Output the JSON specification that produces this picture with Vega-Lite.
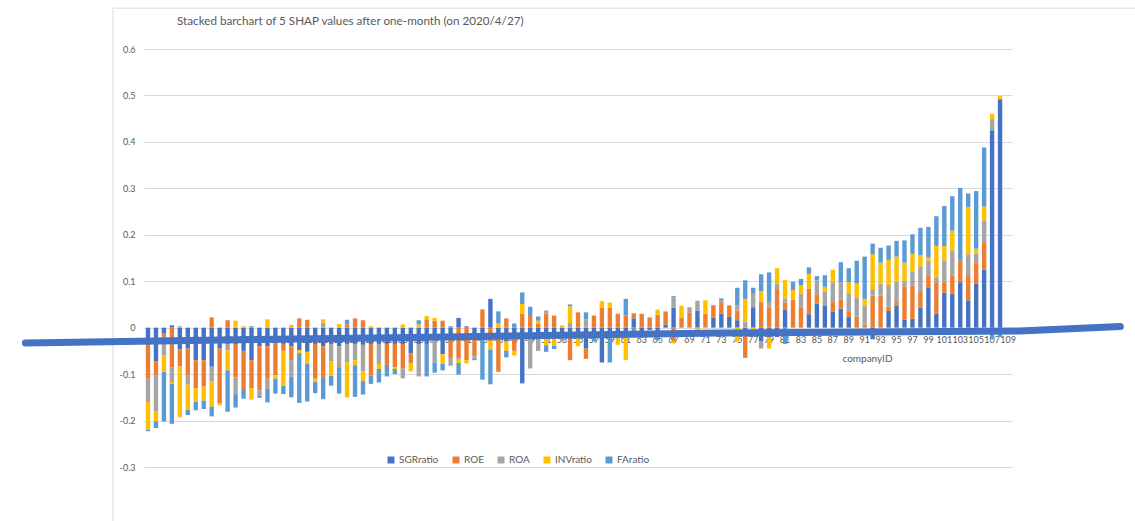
{
  "$schema": "https://vega.github.io/schema/vega-lite/v6.json",
  "width": 868,
  "height": 418,
  "autosize": "none",
  "padding": {"left": 144, "top": 49, "right": 123, "bottom": 54},
  "background": "white",
  "config": {
    "font": "Lato",
    "view": {"stroke": null},
    "axis": {"labelColor": "#595959", "labelFont": "Lato", "titleFont": "Lato"}
  },
  "title": {
    "text": "Stacked barchart of 5 SHAP values after one-month (on 2020/4/27)",
    "anchor": "start",
    "frame": "group",
    "dx": 33,
    "offset": -20,
    "fontSize": 11.7,
    "fontWeight": "normal",
    "color": "#595959",
    "font": "Lato"
  },
  "datasets": {
    "shap": [
      {"companyID": 1, "SGRratio": -0.035, "ROE": -0.075, "ROA": -0.05, "INVratio": -0.06, "FAratio": -0.003},
      {"companyID": 2, "SGRratio": -0.073, "ROE": -0.029, "ROA": -0.079, "INVratio": -0.021, "FAratio": -0.014},
      {"companyID": 3, "SGRratio": -0.013, "ROE": -0.006, "ROA": -0.04, "INVratio": -0.036, "FAratio": -0.107},
      {"companyID": 4, "SGRratio": 0.005, "ROE": -0.085, "ROA": -0.032, "INVratio": -0.004, "FAratio": -0.086},
      {"companyID": 5, "SGRratio": -0.047, "ROE": -0.036, "ROA": 0.003, "INVratio": -0.11, "FAratio": 0},
      {"companyID": 6, "SGRratio": -0.045, "ROE": -0.057, "ROA": -0.021, "INVratio": -0.054, "FAratio": -0.011},
      {"companyID": 7, "SGRratio": -0.07, "ROE": -0.06, "ROA": 0, "INVratio": -0.03, "FAratio": -0.018},
      {"companyID": 8, "SGRratio": -0.07, "ROE": -0.057, "ROA": 0, "INVratio": -0.03, "FAratio": -0.018},
      {"companyID": 9, "SGRratio": -0.084, "ROE": 0.022, "ROA": -0.032, "INVratio": -0.054, "FAratio": -0.021},
      {"companyID": 10, "SGRratio": -0.045, "ROE": -0.118, "ROA": 0, "INVratio": -0.004, "FAratio": 0},
      {"companyID": 11, "SGRratio": -0.035, "ROE": 0.016, "ROA": -0.014, "INVratio": -0.043, "FAratio": -0.089},
      {"companyID": 12, "SGRratio": -0.035, "ROE": -0.072, "ROA": -0.036, "INVratio": 0.015, "FAratio": -0.029},
      {"companyID": 13, "SGRratio": -0.05, "ROE": -0.082, "ROA": 0, "INVratio": 0.003, "FAratio": -0.021},
      {"companyID": 14, "SGRratio": -0.07, "ROE": -0.06, "ROA": 0, "INVratio": -0.025, "FAratio": 0.003},
      {"companyID": 15, "SGRratio": -0.04, "ROE": -0.095, "ROA": -0.012, "INVratio": 0, "FAratio": -0.004},
      {"companyID": 16, "SGRratio": -0.04, "ROE": -0.07, "ROA": -0.022, "INVratio": 0.018, "FAratio": -0.029},
      {"companyID": 17, "SGRratio": -0.033, "ROE": -0.07, "ROA": 0, "INVratio": -0.007, "FAratio": -0.032},
      {"companyID": 18, "SGRratio": -0.035, "ROE": -0.015, "ROA": 0, "INVratio": -0.075, "FAratio": -0.018},
      {"companyID": 19, "SGRratio": -0.04, "ROE": -0.03, "ROA": -0.035, "INVratio": 0.006, "FAratio": -0.045},
      {"companyID": 20, "SGRratio": -0.048, "ROE": 0.02, "ROA": 0, "INVratio": -0.007, "FAratio": -0.107},
      {"companyID": 21, "SGRratio": -0.052, "ROE": 0.017, "ROA": 0, "INVratio": -0.025, "FAratio": -0.082},
      {"companyID": 22, "SGRratio": -0.035, "ROE": -0.075, "ROA": 0, "INVratio": -0.007, "FAratio": -0.024},
      {"companyID": 23, "SGRratio": -0.04, "ROE": -0.068, "ROA": 0.011, "INVratio": 0.007, "FAratio": -0.046},
      {"companyID": 24, "SGRratio": -0.035, "ROE": 0, "ROA": -0.037, "INVratio": -0.032, "FAratio": -0.021},
      {"companyID": 25, "SGRratio": -0.04, "ROE": 0, "ROA": -0.045, "INVratio": 0.008, "FAratio": -0.057},
      {"companyID": 26, "SGRratio": -0.035, "ROE": 0.007, "ROA": -0.04, "INVratio": -0.075, "FAratio": 0.01},
      {"companyID": 27, "SGRratio": -0.035, "ROE": 0.02, "ROA": -0.035, "INVratio": -0.011, "FAratio": -0.068},
      {"companyID": 28, "SGRratio": -0.037, "ROE": 0.016, "ROA": -0.057, "INVratio": -0.021, "FAratio": -0.029},
      {"companyID": 29, "SGRratio": -0.035, "ROE": -0.068, "ROA": 0, "INVratio": 0.003, "FAratio": -0.018},
      {"companyID": 30, "SGRratio": -0.035, "ROE": 0, "ROA": -0.043, "INVratio": -0.011, "FAratio": -0.029},
      {"companyID": 31, "SGRratio": -0.035, "ROE": -0.045, "ROA": 0, "INVratio": 0, "FAratio": -0.025},
      {"companyID": 32, "SGRratio": -0.035, "ROE": -0.05, "ROA": 0, "INVratio": -0.004, "FAratio": -0.011},
      {"companyID": 33, "SGRratio": -0.035, "ROE": -0.053, "ROA": -0.021, "INVratio": 0.007, "FAratio": 0},
      {"companyID": 34, "SGRratio": -0.055, "ROE": -0.021, "ROA": 0, "INVratio": -0.018, "FAratio": 0},
      {"companyID": 35, "SGRratio": -0.035, "ROE": 0, "ROA": -0.07, "INVratio": 0.007, "FAratio": 0.009},
      {"companyID": 36, "SGRratio": -0.035, "ROE": 0.018, "ROA": 0, "INVratio": 0.007, "FAratio": -0.07},
      {"companyID": 37, "SGRratio": -0.02, "ROE": 0.015, "ROA": -0.055, "INVratio": 0.006, "FAratio": -0.022},
      {"companyID": 38, "SGRratio": -0.057, "ROE": 0.015, "ROA": 0, "INVratio": -0.021, "FAratio": -0.014},
      {"companyID": 39, "SGRratio": -0.02, "ROE": -0.045, "ROA": -0.017, "INVratio": 0, "FAratio": 0.003},
      {"companyID": 40, "SGRratio": 0.021, "ROE": -0.065, "ROA": -0.004, "INVratio": -0.007, "FAratio": -0.025},
      {"companyID": 41, "SGRratio": 0.003, "ROE": -0.07, "ROA": 0, "INVratio": -0.007, "FAratio": 0},
      {"companyID": 42, "SGRratio": -0.012, "ROE": -0.05, "ROA": -0.004, "INVratio": 0, "FAratio": -0.004},
      {"companyID": 43, "SGRratio": -0.022, "ROE": 0.038, "ROA": 0, "INVratio": 0.002, "FAratio": -0.09},
      {"companyID": 44, "SGRratio": 0.062, "ROE": -0.03, "ROA": 0, "INVratio": -0.017, "FAratio": -0.075},
      {"companyID": 45, "SGRratio": -0.015, "ROE": -0.08, "ROA": 0, "INVratio": 0.01, "FAratio": 0.025},
      {"companyID": 46, "SGRratio": -0.03, "ROE": 0.02, "ROA": 0, "INVratio": -0.02, "FAratio": -0.014},
      {"companyID": 47, "SGRratio": -0.02, "ROE": -0.03, "ROA": 0, "INVratio": -0.01, "FAratio": 0.009},
      {"companyID": 48, "SGRratio": -0.12, "ROE": 0.03, "ROA": 0, "INVratio": 0.021, "FAratio": 0.025},
      {"companyID": 49, "SGRratio": -0.02, "ROE": 0.025, "ROA": -0.068, "INVratio": 0, "FAratio": 0.02},
      {"companyID": 50, "SGRratio": -0.02, "ROE": 0.008, "ROA": -0.03, "INVratio": 0.007, "FAratio": 0.009},
      {"companyID": 51, "SGRratio": -0.02, "ROE": 0.03, "ROA": 0.007, "INVratio": -0.018, "FAratio": -0.014},
      {"companyID": 52, "SGRratio": -0.015, "ROE": 0.026, "ROA": 0, "INVratio": -0.024, "FAratio": -0.007},
      {"companyID": 53, "SGRratio": -0.02, "ROE": 0, "ROA": -0.01, "INVratio": 0.005, "FAratio": 0},
      {"companyID": 54, "SGRratio": -0.02, "ROE": -0.05, "ROA": 0.01, "INVratio": 0.036, "FAratio": 0.004},
      {"companyID": 55, "SGRratio": -0.015, "ROE": 0.033, "ROA": 0, "INVratio": -0.025, "FAratio": 0},
      {"companyID": 56, "SGRratio": -0.045, "ROE": -0.022, "ROA": 0.018, "INVratio": 0, "FAratio": 0.015},
      {"companyID": 57, "SGRratio": -0.01, "ROE": 0.026, "ROA": 0, "INVratio": 0, "FAratio": -0.02},
      {"companyID": 58, "SGRratio": -0.075, "ROE": 0.043, "ROA": 0, "INVratio": 0.014, "FAratio": 0},
      {"companyID": 59, "SGRratio": -0.015, "ROE": 0.043, "ROA": 0, "INVratio": 0.011, "FAratio": -0.06},
      {"companyID": 60, "SGRratio": -0.015, "ROE": 0.03, "ROA": 0, "INVratio": -0.022, "FAratio": 0},
      {"companyID": 61, "SGRratio": -0.015, "ROE": 0.026, "ROA": 0, "INVratio": -0.055, "FAratio": 0.036},
      {"companyID": 62, "SGRratio": 0.02, "ROE": 0.011, "ROA": 0, "INVratio": 0, "FAratio": -0.01},
      {"companyID": 63, "SGRratio": -0.01, "ROE": 0.03, "ROA": 0, "INVratio": 0, "FAratio": -0.012},
      {"companyID": 64, "SGRratio": -0.005, "ROE": 0.022, "ROA": 0, "INVratio": 0, "FAratio": 0},
      {"companyID": 65, "SGRratio": -0.01, "ROE": 0.028, "ROA": 0, "INVratio": 0.011, "FAratio": -0.018},
      {"companyID": 66, "SGRratio": 0.007, "ROE": 0.028, "ROA": 0, "INVratio": 0, "FAratio": 0},
      {"companyID": 67, "SGRratio": 0.043, "ROE": -0.03, "ROA": 0.022, "INVratio": -0.004, "FAratio": 0.003},
      {"companyID": 68, "SGRratio": 0, "ROE": 0.022, "ROA": 0, "INVratio": 0.025, "FAratio": 0},
      {"companyID": 69, "SGRratio": 0, "ROE": 0.033, "ROA": 0.011, "INVratio": 0, "FAratio": 0},
      {"companyID": 70, "SGRratio": 0.037, "ROE": 0, "ROA": 0.021, "INVratio": -0.005, "FAratio": 0},
      {"companyID": 71, "SGRratio": 0, "ROE": 0.03, "ROA": 0, "INVratio": 0.029, "FAratio": 0},
      {"companyID": 72, "SGRratio": 0.022, "ROE": 0.025, "ROA": 0.002, "INVratio": 0, "FAratio": 0},
      {"companyID": 73, "SGRratio": 0.03, "ROE": 0.025, "ROA": 0.003, "INVratio": 0, "FAratio": 0.005},
      {"companyID": 74, "SGRratio": 0.023, "ROE": 0.025, "ROA": 0, "INVratio": 0, "FAratio": 0},
      {"companyID": 75, "SGRratio": 0.016, "ROE": 0.021, "ROA": 0.011, "INVratio": -0.03, "FAratio": 0.038},
      {"companyID": 76, "SGRratio": -0.01, "ROE": -0.055, "ROA": 0.012, "INVratio": 0.05, "FAratio": 0.04},
      {"companyID": 77, "SGRratio": 0.044, "ROE": 0, "ROA": 0.029, "INVratio": -0.005, "FAratio": 0.013},
      {"companyID": 78, "SGRratio": -0.03, "ROE": 0.055, "ROA": -0.015, "INVratio": 0.024, "FAratio": 0.036},
      {"companyID": 79, "SGRratio": -0.02, "ROE": 0.044, "ROA": 0.011, "INVratio": -0.025, "FAratio": 0.064},
      {"companyID": 80, "SGRratio": -0.02, "ROE": 0.083, "ROA": 0.011, "INVratio": 0.034, "FAratio": 0},
      {"companyID": 81, "SGRratio": 0.039, "ROE": 0.015, "ROA": 0.009, "INVratio": 0.04, "FAratio": -0.035},
      {"companyID": 82, "SGRratio": 0, "ROE": 0.06, "ROA": 0, "INVratio": 0.021, "FAratio": 0.018},
      {"companyID": 83, "SGRratio": 0, "ROE": 0.044, "ROA": 0.029, "INVratio": 0.018, "FAratio": 0.014},
      {"companyID": 84, "SGRratio": 0.029, "ROE": 0.055, "ROA": 0, "INVratio": 0.032, "FAratio": 0.014},
      {"companyID": 85, "SGRratio": 0.052, "ROE": 0.02, "ROA": 0.03, "INVratio": 0, "FAratio": 0.009},
      {"companyID": 86, "SGRratio": 0.048, "ROE": 0, "ROA": 0.029, "INVratio": 0.011, "FAratio": 0.025},
      {"companyID": 87, "SGRratio": 0.034, "ROE": 0.021, "ROA": 0.043, "INVratio": 0.027, "FAratio": 0},
      {"companyID": 88, "SGRratio": 0.041, "ROE": 0.019, "ROA": 0.038, "INVratio": 0, "FAratio": 0.043},
      {"companyID": 89, "SGRratio": 0.023, "ROE": 0.011, "ROA": 0.04, "INVratio": 0.024, "FAratio": 0.03},
      {"companyID": 90, "SGRratio": 0, "ROE": 0.024, "ROA": 0.04, "INVratio": 0.031, "FAratio": 0.049},
      {"companyID": 91, "SGRratio": 0, "ROE": 0.007, "ROA": 0.041, "INVratio": 0.014, "FAratio": 0.091},
      {"companyID": 92, "SGRratio": -0.025, "ROE": 0.069, "ROA": 0.014, "INVratio": 0.075, "FAratio": 0.023},
      {"companyID": 93, "SGRratio": 0, "ROE": 0.069, "ROA": 0.026, "INVratio": 0.045, "FAratio": 0.032},
      {"companyID": 94, "SGRratio": 0.036, "ROE": 0.009, "ROA": 0.047, "INVratio": 0.054, "FAratio": 0.031},
      {"companyID": 95, "SGRratio": 0.048, "ROE": 0.007, "ROA": 0.044, "INVratio": 0.054, "FAratio": 0.034},
      {"companyID": 96, "SGRratio": 0.017, "ROE": 0.072, "ROA": 0.011, "INVratio": 0.04, "FAratio": 0.048},
      {"companyID": 97, "SGRratio": 0.019, "ROE": 0.072, "ROA": 0.029, "INVratio": 0.039, "FAratio": 0.042},
      {"companyID": 98, "SGRratio": 0.043, "ROE": 0.034, "ROA": 0.054, "INVratio": 0.025, "FAratio": 0.059},
      {"companyID": 99, "SGRratio": 0.087, "ROE": 0.026, "ROA": 0.031, "INVratio": 0.007, "FAratio": 0.066},
      {"companyID": 100, "SGRratio": 0.03, "ROE": 0.068, "ROA": 0.009, "INVratio": 0.069, "FAratio": 0.064},
      {"companyID": 101, "SGRratio": 0.075, "ROE": 0.023, "ROA": 0.047, "INVratio": 0.031, "FAratio": 0.086},
      {"companyID": 102, "SGRratio": 0.073, "ROE": 0.039, "ROA": 0.054, "INVratio": 0.043, "FAratio": 0.074},
      {"companyID": 103, "SGRratio": 0.098, "ROE": 0.047, "ROA": 0, "INVratio": 0, "FAratio": 0.156},
      {"companyID": 104, "SGRratio": 0.059, "ROE": 0.054, "ROA": 0.045, "INVratio": 0.102, "FAratio": 0.029},
      {"companyID": 105, "SGRratio": 0.094, "ROE": 0.047, "ROA": 0.018, "INVratio": 0.011, "FAratio": 0.124},
      {"companyID": 106, "SGRratio": 0.125, "ROE": 0.059, "ROA": 0.047, "INVratio": 0.03, "FAratio": 0.127},
      {"companyID": 107, "SGRratio": 0.425, "ROE": 0, "ROA": 0.024, "INVratio": 0.011, "FAratio": -0.025},
      {"companyID": 108, "SGRratio": 0.492, "ROE": 0, "ROA": 0, "INVratio": 0.007, "FAratio": -0.02},
      {"companyID": 109, "SGRratio": 0, "ROE": 0, "ROA": 0, "INVratio": 0, "FAratio": 0}
    ],
    "frame": [
      {"x": -3.39, "x2": -3.39, "y": 0.688, "y2": -0.42},
      {"x": -3.39, "x2": 126, "y": 0.688, "y2": 0.688}
    ],
    "pen": [
      {"x": -14.4, "y": -0.033},
      {"x": 0, "y": -0.029},
      {"x": 36.4, "y": -0.0207},
      {"x": 72.8, "y": -0.0114},
      {"x": 110.5, "y": -0.0071},
      {"x": 123.1, "y": 0.0025}
    ]
  },
  "layer": [
    {
      "data": {"name": "shap"},
      "transform": [{"fold": ["SGRratio", "ROE", "ROA", "INVratio", "FAratio"], "as": ["factor", "value"]}],
      "mark": {"type": "bar"},
      "encoding": {
        "x": {
          "field": "companyID",
          "type": "ordinal",
          "scale": {"paddingInner": 0.45, "paddingOuter": 0.225},
          "axis": {
            "values": [1,3,5,7,9,11,13,15,17,19,21,23,25,27,29,31,33,35,37,39,41,43,45,47,49,51,53,55,57,59,61,63,65,67,69,71,73,75,77,79,81,83,85,87,89,91,93,95,97,99,101,103,105,107,109],
            "offset": -139.3,
            "labelAngle": 0,
            "labelFontSize": 9,
            "labelPadding": 8,
            "labelOverlap": false,
            "labelFlush": false,
            "ticks": false,
            "domain": false,
            "title": "companyID",
            "titleFontSize": 10,
            "titleFontWeight": "normal",
            "titleColor": "#595959",
            "titleX": 723,
            "titleY": 31,
            "titleBaseline": "middle"
          }
        },
        "y": {
          "field": "value",
          "type": "quantitative",
          "stack": "zero",
          "scale": {"domain": [-0.3, 0.6], "nice": false, "zero": false},
          "axis": {
            "values": [-0.3, -0.2, -0.1, 0, 0.1, 0.2, 0.3, 0.4, 0.5, 0.6],
            "labelExpr": "datum.value == 0 ? '0' : (datum.value < 0 ? '-' + format(-datum.value, '.1f') : format(datum.value, '.1f'))",
            "title": null,
            "grid": true,
            "gridColor": "#d9d9d9",
            "domain": false,
            "ticks": false,
            "labelFontSize": 9,
            "labelPadding": 9
          }
        },
        "color": {
          "field": "factor",
          "type": "nominal",
          "sort": ["SGRratio", "ROE", "ROA", "INVratio", "FAratio"],
          "scale": {
            "domain": ["SGRratio", "ROE", "ROA", "INVratio", "FAratio"],
            "range": ["#4472C4", "#ED7D31", "#A5A5A5", "#FFC000", "#5B9BD5"]
          },
          "legend": {
            "orient": "none",
            "legendX": 242,
            "legendY": 406,
            "direction": "horizontal",
            "title": null,
            "symbolType": "square",
            "symbolSize": 49,
            "symbolStrokeWidth": 0,
            "labelOffset": 3,
            "columnPadding": 12,
            "labelFontSize": 10,
            "labelColor": "#595959",
            "labelFont": "Lato",
            "padding": 0
          }
        }
      }
    },
    {
      "data": {"name": "frame"},
      "mark": {"type": "rule", "clip": false, "color": "#d9d9d9", "strokeWidth": 1},
      "encoding": {
        "x": {"field": "x", "type": "quantitative", "scale": {"domain": [0.5, 109.5], "nice": false, "zero": false}, "axis": null},
        "x2": {"field": "x2"},
        "y": {
          "field": "y",
          "type": "quantitative",
          "scale": {"domain": [-0.3, 0.6], "nice": false, "zero": false},
          "axis": {
            "values": [-0.3, -0.2, -0.1, 0, 0.1, 0.2, 0.3, 0.4, 0.5, 0.6],
            "labelExpr": "datum.value == 0 ? '0' : (datum.value < 0 ? '-' + format(-datum.value, '.1f') : format(datum.value, '.1f'))",
            "title": null,
            "grid": true,
            "gridColor": "#d9d9d9",
            "domain": false,
            "ticks": false,
            "labelFontSize": 9,
            "labelPadding": 9
          }
        },
        "y2": {"field": "y2"}
      }
    },
    {
      "data": {"name": "pen"},
      "mark": {"type": "line", "clip": false, "color": "#4472C4", "strokeWidth": 7, "strokeCap": "round"},
      "encoding": {
        "x": {"field": "x", "type": "quantitative", "scale": {"domain": [0.5, 109.5], "nice": false, "zero": false}, "axis": null},
        "y": {
          "field": "y",
          "type": "quantitative",
          "scale": {"domain": [-0.3, 0.6], "nice": false, "zero": false},
          "axis": {
            "values": [-0.3, -0.2, -0.1, 0, 0.1, 0.2, 0.3, 0.4, 0.5, 0.6],
            "labelExpr": "datum.value == 0 ? '0' : (datum.value < 0 ? '-' + format(-datum.value, '.1f') : format(datum.value, '.1f'))",
            "title": null,
            "grid": true,
            "gridColor": "#d9d9d9",
            "domain": false,
            "ticks": false,
            "labelFontSize": 9,
            "labelPadding": 9
          }
        }
      }
    }
  ],
  "resolve": {"scale": {"x": "independent"}}
}
